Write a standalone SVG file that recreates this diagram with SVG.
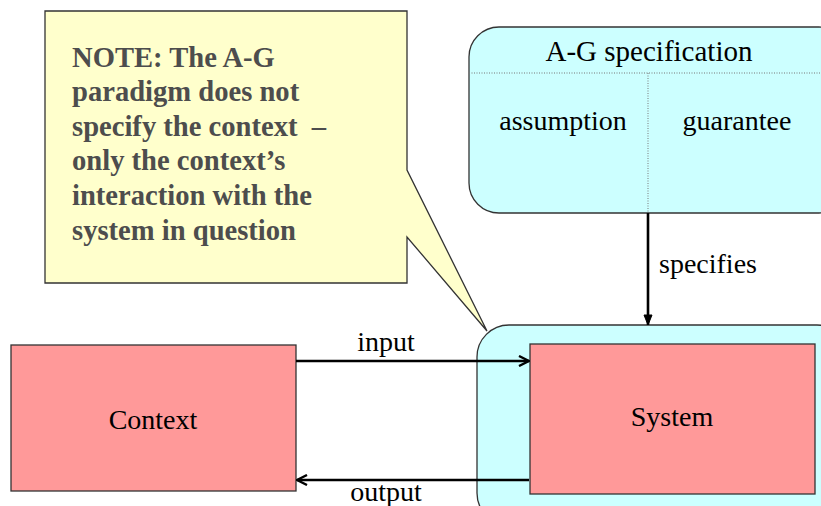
<svg xmlns="http://www.w3.org/2000/svg" width="821" height="506" viewBox="0 0 821 506">
<defs>
<style>
text{font-family:'Liberation Serif','DejaVu Serif',serif}
.t{font-size:28px;fill:#000}
.note{font-size:28.6px;font-weight:bold;fill:#4d4d4d;white-space:pre}
.edge{stroke:#000;stroke-width:2.6;fill:none}
.box{stroke:#333;stroke-width:1.3}
</style>
<marker id="ah" viewBox="0 0 12 12" refX="11" refY="6" markerWidth="12" markerHeight="12" markerUnits="userSpaceOnUse" orient="auto">
<path d="M1,1 L11,6 L1,11" fill="none" stroke="#000" stroke-width="2.4"/>
</marker>
<marker id="ahf" viewBox="0 0 12 12" refX="11" refY="6" markerWidth="12" markerHeight="12" markerUnits="userSpaceOnUse" orient="auto">
<path d="M1,2 L11,6 L1,10 Z" fill="#000" stroke="#000" stroke-width="1"/>
</marker>
</defs>
<rect width="821" height="506" fill="#fff"/>

<g id="note">
<path d="M45,11 H407 V170 L487,331 L407,237 V283 H45 Z" fill="#ffffcc" class="box"/>
<text class="note" x="72" y="67">NOTE: The A-G</text>
<text class="note" x="72" y="101">paradigm does not</text>
<text class="note" x="72" y="136" xml:space="preserve">specify the context  –</text>
<text class="note" x="72" y="170">only the context’s</text>
<text class="note" x="72" y="205">interaction with the</text>
<text class="note" x="72" y="240">system in question</text>
</g>

<g id="spec">
<rect x="469" y="27" width="380" height="186" rx="30" ry="30" fill="#ccffff" class="box"/>
<line x1="469" y1="73" x2="821" y2="73" stroke="#777" stroke-width="1" stroke-dasharray="1,1.5"/>
<line x1="648" y1="73" x2="648" y2="213" stroke="#777" stroke-width="1" stroke-dasharray="1,1.5"/>
<text class="t" x="649" y="61" text-anchor="middle" style="font-size:29px">A-G specification</text>
<text class="t" x="563" y="130" text-anchor="middle">assumption</text>
<text class="t" x="737" y="130" text-anchor="middle">guarantee</text>
</g>

<g id="system-env">
<rect x="477" y="325" width="372" height="200" rx="32" ry="32" fill="#ccffff" class="box"/>
</g>

<g id="system">
<rect x="530" y="344" width="285" height="150" fill="#ff9999" class="box"/>
<text class="t" x="672" y="426" text-anchor="middle">System</text>
</g>

<g id="context">
<rect x="11" y="345" width="285" height="146" fill="#ff9999" class="box"/>
<text class="t" x="153" y="429" text-anchor="middle">Context</text>
</g>

<g id="connectors">
<line class="edge" x1="648" y1="213" x2="648" y2="325" marker-end="url(#ahf)"/>
<text class="t" x="659" y="273">specifies</text>
<line class="edge" x1="296" y1="361" x2="529" y2="361" marker-end="url(#ah)"/>
<text class="t" x="386" y="351" text-anchor="middle">input</text>
<line class="edge" x1="529" y1="480" x2="297" y2="480" marker-end="url(#ah)"/>
<text class="t" x="386" y="501" text-anchor="middle">output</text>
</g>
</svg>
